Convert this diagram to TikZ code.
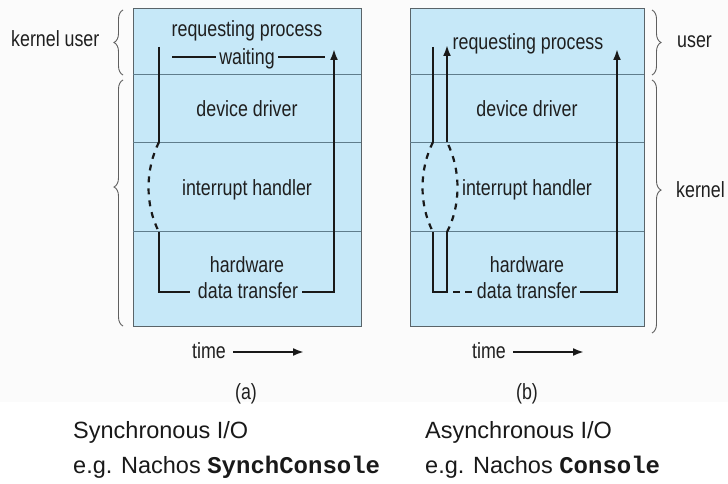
\documentclass[tikz,border=0pt]{standalone}
\usepackage{fontspec}
\setmainfont{Liberation Sans}
\newfontfamily\narrowfont[FakeStretch=0.81]{Liberation Sans}
\newfontfamily\plainsans{Liberation Sans}
\newfontfamily\codefont{Liberation Mono}
\usetikzlibrary{arrows.meta,decorations.pathreplacing}
\definecolor{boxblue}{RGB}{198,232,248}
\definecolor{divline}{RGB}{95,125,140}
\definecolor{outline}{RGB}{90,100,105}
\definecolor{bggray}{RGB}{251,251,251}
\definecolor{bracegray}{RGB}{95,95,95}
\tikzset{
  lbl/.style={font=\narrowfont\fontsize{22}{26}\selectfont, inner sep=0pt, anchor=base, text=black!88},
  captext/.style={font=\plainsans\fontsize{23.5}{28}\selectfont, inner sep=0pt, anchor=base west, text=black!90},
  flow/.style={line width=2.2pt, black!90},
  dflow/.style={flow, dash pattern=on 6pt off 6pt},
  arrowflow/.style={flow, -{Latex[length=11pt,width=8pt]}},
  timearrow/.style={line width=2pt, black!90, -{Latex[length=11pt,width=8pt]}},
  layerbox/.style={draw=outline, line width=0.9pt, fill=boxblue},
  divider/.style={draw=divline, line width=0.8pt},
  brc/.style={decorate, decoration={brace, amplitude=9pt, aspect=#1}, line width=0.9pt, draw=bracegray},
  brc/.default=0.5
}
\begin{document}
\begin{tikzpicture}[x=1pt,y=-1pt]
\useasboundingbox (0,0) rectangle (728,484);
\fill[bggray] (0,0) rectangle (728,402);

% ---------- box (a) ----------
\path[layerbox] (133,8) rectangle (361,326);
\draw[divider] (133,74) -- (361,74);
\draw[divider] (133,142) -- (361,142);
\draw[divider] (133,231) -- (361,231);

\node[lbl] (aReq) at (247,37) {requesting process};
\node[lbl] (aWait) at (247,65) {waiting};
\node[lbl] (aDev) at (247,117) {device driver};
\node[lbl] (aInt) at (247,195) {interrupt handler};
\node[lbl] (aHw) at (247,272) {hardware};
\node[lbl] (aData) at (248,298) {data transfer};

\coordinate (a1) at (159,47);
\coordinate (a2) at (159,142);
\coordinate (a3) at (159,232);
\coordinate (a4) at (159,292);
\coordinate (a5) at (190,292);
\coordinate (a6) at (302,292);
\coordinate (a7) at (334,292);
\coordinate (a8) at (334,49);
\coordinate (aw1) at (172,57);
\coordinate (aw2) at (216,57);
\coordinate (aw3) at (278,57);
\coordinate (aw4) at (325,57);

\draw[flow] (a1) -- (a2);
\draw[dflow] (a2) .. controls (145,170) and (145,205) .. (a3);
\draw[flow] (a3) -- (a4) -- (a5);
\draw[flow] (aw1) -- (aw2);
\draw[flow] (aw3) -- (aw4);
\draw[arrowflow] (a6) -- (a7) -- (a8);

% ---------- box (b) ----------
\path[layerbox] (410,8) rectangle (644,326);
\draw[divider] (410,74) -- (644,74);
\draw[divider] (410,142) -- (644,142);
\draw[divider] (410,231) -- (644,231);

\node[lbl] (bReq) at (528,50) {requesting process};
\node[lbl] (bDev) at (527,117) {device driver};
\node[lbl] (bInt) at (527,195) {interrupt handler};
\node[lbl] (bHw) at (527,272) {hardware};
\node[lbl] (bData) at (527,298) {data transfer};

\coordinate (b1) at (433,47);
\coordinate (b2) at (433,142);
\coordinate (b3) at (433,232);
\coordinate (b4) at (433,292);
\coordinate (b5) at (447,292);
\coordinate (b6) at (447,232);
\coordinate (b7) at (447,142);
\coordinate (b8) at (447,45);
\coordinate (bd1) at (453,292);
\coordinate (bd2) at (474,292);
\coordinate (b9) at (580,292);
\coordinate (b10) at (617,292);
\coordinate (b11) at (617,49);

\draw[flow] (b1) -- (b2);
\draw[dflow] (b2) .. controls (419,170) and (419,205) .. (b3);
\draw[flow] (b3) -- (b4) -- (b5) -- (b6);
\draw[dflow] (b6) .. controls (461,205) and (461,170) .. (b7);
\draw[arrowflow] (b7) -- (b8);
\draw[flow, dash pattern=on 7pt off 5pt] (bd1) -- (bd2);
\draw[arrowflow] (b9) -- (b10) -- (b11);

% ---------- braces and side labels ----------
\draw[brc] (123,75) -- (123,10);
\draw[brc=0.565] (123,326) -- (123,80);
\node[lbl, anchor=base west] (kuser) at (11,47) {kernel user};

\draw[brc] (652,10) -- (652,75);
\draw[brc=0.435] (652,80) -- (652,333);
\node[lbl, anchor=base west] (ruser) at (677,48) {user};
\node[lbl, anchor=base west] (rkernel) at (676,197) {kernel};

% ---------- time arrows ----------
\node[lbl, anchor=base west] (aTime) at (192,358) {time};
\coordinate (aT2) at (304,352);
\draw[timearrow] (233,352) -- (aT2);
\node[lbl, anchor=base west] (bTime) at (472,358) {time};
\coordinate (bT2) at (584,352);
\draw[timearrow] (513,352) -- (bT2);

% ---------- captions ----------
\node[lbl] (capA) at (246,399) {(a)};
\node[lbl] (capB) at (527,399) {(b)};

\node[captext] (syncT) at (73,438) {Synchronous I/O};
\node[captext] (syncE) at (73,473) {e.g. Nachos {\codefont\bfseries\fontsize{24}{28}\selectfont SynchConsole}};
\node[captext] (asyncT) at (425,438) {Asynchronous I/O};
\node[captext] (asyncE) at (425,473) {e.g. Nachos {\codefont\bfseries\fontsize{24}{28}\selectfont Console}};
\end{tikzpicture}
\end{document}
